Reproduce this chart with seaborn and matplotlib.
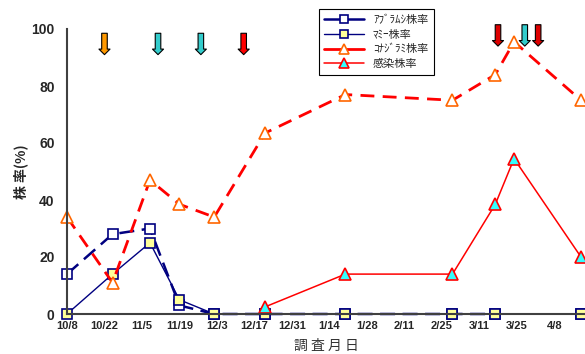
import numpy as np
import pandas as pd
import matplotlib.pyplot as plt
import seaborn as sns
from matplotlib.lines import Line2D

sns.set_style("white")
plt.rcParams['font.family'] = ['Liberation Sans', 'Noto Sans CJK JP', 'DejaVu Sans']

# ---------------------------------------------------------------------------
# data
# ---------------------------------------------------------------------------
dates = ['10/8', '10/25', '11/8', '11/19', '12/2', '12/21', '1/20', '3/1', '3/17', '3/24', '4/18']
aphid = [14, 28, 30, 3, 0, 0, 0, 0, 0, np.nan, 0]
mummy = [0, 14, 25, 5, 0, 0, 0, 0, 0, np.nan, 0]
whitefly = [34, 11, 47, 38.5, 34, 63.5, 77, 75, 84, 95.5, 75]
infected = [np.nan, np.nan, np.nan, np.nan, np.nan, 2.5, 14, 14, 38.5, 54.5, 20]

tick_labels = ['10/8', '10/22', '11/5', '11/19', '12/3', '12/17', '12/31',
               '1/14', '1/28', '2/11', '2/25', '3/11', '3/25', '4/8']

# spray events shown as arrows at the top
arrow_dates = ['10/22', '11/11', '11/27', '12/13', '3/18', '3/28', '4/2']
arrow_colors = ['#FF9900', '#33CCCC', '#33CCCC', '#FF0000', '#DD0000', '#33CCCC', '#DD0000']

series_names = ['ｱﾌﾞﾗﾑｼ株率', 'ﾏﾐｰ株率', 'ｺﾅｼﾞﾗﾐ株率', '感染株率']


def to_day(s):
    m, d = map(int, s.split('/'))
    year = 2002 if m >= 9 else 2003
    return (pd.Timestamp(year, m, d) - pd.Timestamp(2002, 10, 8)).days


days = [to_day(s) for s in dates]
tick_days = [to_day(s) for s in tick_labels]
arrow_days = [to_day(s) for s in arrow_dates]

fig = plt.figure(figsize=(5.85, 3.54), dpi=100)
ax = fig.add_axes([67 / 585, 1 - 314 / 354, 1 - 67 / 585, 285 / 354])


def draw(values, **kw):
    d = pd.DataFrame({'day': days, 'v': values})
    d['seg'] = d['v'].isna().cumsum()   # gaps break the line like Excel does
    d = d.dropna()
    sns.lineplot(data=d, x='day', y='v', units='seg', estimator=None,
                 ax=ax, clip_on=False, legend=False, **kw)


navy = '#000080'
styles = [
    dict(color=navy, lw=1.8, linestyle=(0, (6, 3)), marker='s', markersize=7,
         markerfacecolor='white', markeredgecolor=navy, markeredgewidth=1.2),
    dict(color=navy, lw=1.0, marker='s', markersize=7.5,
         markerfacecolor='#FFFF99', markeredgecolor=navy, markeredgewidth=1.2),
    dict(color='#FF0000', lw=2.0, linestyle=(0, (5, 3)), marker='^', markersize=9,
         markerfacecolor='white', markeredgecolor='#FF6600', markeredgewidth=1.2),
    dict(color='#FF0000', lw=1.1, marker='^', markersize=9,
         markerfacecolor='#33FFFF', markeredgecolor='#FF0000', markeredgewidth=1.2),
]

for vals, st in zip([aphid, mummy, whitefly, infected], styles):
    draw(vals, **st)

# arrows
for xd, c in zip(arrow_days, arrow_colors):
    top, tip = (98.5, 91) if xd < 100 else (101.5, 94)
    ax.annotate('', xy=(xd, tip), xytext=(xd, top), annotation_clip=False,
                arrowprops=dict(facecolor=c, edgecolor='black', lw=0.8,
                                width=4, headwidth=8, headlength=4, shrink=0))

ax.set_xlim(0, 193.5)
ax.set_ylim(0, 100)
ax.set_xticks(tick_days)
ax.set_xticklabels(tick_labels, fontsize=8, fontweight='bold')
ax.set_yticks(range(0, 101, 20))
ax.set_yticklabels([str(v) for v in range(0, 101, 20)], fontsize=10, fontweight='bold')
ax.tick_params(axis='x', direction='in', length=3, width=1, pad=5, color='#404040')
ax.tick_params(axis='y', direction='in', length=4, width=1, pad=9, color='#404040')

for side in ['top', 'right']:
    ax.spines[side].set_visible(False)
for side in ['left', 'bottom']:
    ax.spines[side].set_color('#404040')
    ax.spines[side].set_linewidth(1.5)

ax.set_xlabel('調 査 月 日', fontsize=10, color='#333333', labelpad=6,
              family=['Noto Sans CJK JP'])
ax.set_ylabel('株 率(%)', fontsize=10, fontweight='bold', labelpad=2,
              family=['Noto Sans CJK JP'])

# legend
handles = []
for name, st in zip(series_names, styles):
    h = dict(st)
    h.pop('linestyle', None)
    h['markersize'] = h['markersize'] * 0.75
    handles.append(Line2D([], [], **h))
leg = fig.legend(handles, series_names, loc='upper left', bbox_to_anchor=(0.535, 0.99),
                 prop={'family': ['Noto Sans CJK JP'], 'size': 8},
                 frameon=True, fancybox=False, edgecolor='black', framealpha=1,
                 handlelength=3.6, labelspacing=0.4, borderpad=0.5)
leg.get_frame().set_linewidth(0.8)

fig.savefig('out.png', dpi=100)
